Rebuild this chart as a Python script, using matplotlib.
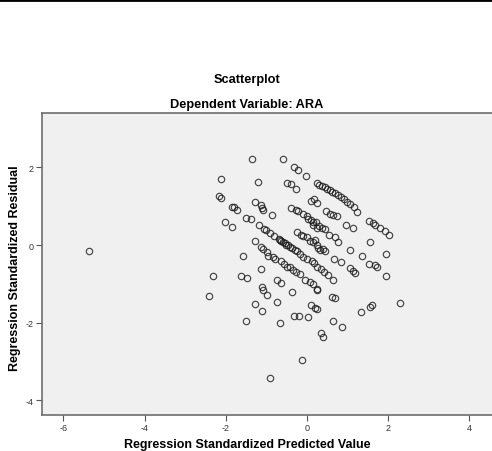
import numpy as np
import matplotlib.pyplot as plt
from matplotlib.lines import Line2D

plt.rcParams['font.family'] = ['Liberation Sans', 'DejaVu Sans']
plt.rcParams['axes.unicode_minus'] = False

# standardized predicted values (x) and standardized residuals (y)
pred_scattered = [-5.37, -1.35, -2.13, -2.17, -2.11, -1.85, -1.80, -1.72, -2.03, -1.85,
                  -1.50, -1.37, -1.58, -1.29, -2.31, -1.63, -1.49, -2.41, -1.13, -1.10,
                  -1.09, -0.98, -0.75, -0.64, -0.37, -0.75, -1.27, -1.10, -1.50, -0.66,
                  -0.32, -0.19, 0.02, 0.10, 0.20, 0.25, 0.65, 0.86, 0.34, 0.39,
                  -0.12, -0.92, 1.32, 1.54, 1.60, 2.29, -1.20, -0.86, -1.27, -1.14,
                  -1.10, -1.08]
resid_scattered = [-0.16, 2.22, 1.70, 1.26, 1.20, 0.97, 0.98, 0.91, 0.59, 0.47,
                   0.70, 0.66, -0.29, 0.10, -0.79, -0.80, -0.86, -1.32, -0.63, -1.08,
                   -1.15, -1.29, -0.91, -0.99, -1.21, -1.46, -1.53, -1.69, -1.95, -2.02,
                   -1.83, -1.82, -1.86, -1.54, -1.62, -1.66, -1.96, -2.11, -2.27, -2.36,
                   -2.96, -3.43, -1.73, -1.59, -1.55, -1.50, 1.63, 0.77, 1.10, 1.03,
                   0.95, 0.90]

pred_band_a = [-0.59, -0.32, -0.22, -0.02, 0.24, 0.30, 0.37, 0.44, 0.50, 0.57,
               0.62, 0.70, 0.76, 0.83, 0.90, 0.99, 1.07, 1.15, 1.24, 1.53,
               1.62, 1.68, 1.80, 1.92, 2.01]
resid_band_a = [2.21, 2.02, 1.94, 1.79, 1.60, 1.55, 1.53, 1.49, 1.44, 1.41,
                1.37, 1.33, 1.29, 1.24, 1.19, 1.12, 1.06, 0.98, 0.86, 0.63,
                0.57, 0.51, 0.44, 0.35, 0.27]

pred_band_e = [-0.50, -0.39, -0.26, 0.11, 0.17, 0.25, 0.47, 0.57, 0.64, 0.73,
               0.96, 1.13, 1.55, 1.95]
resid_band_e = [1.61, 1.58, 1.43, 1.14, 1.19, 1.08, 0.88, 0.81, 0.77, 0.74,
                0.51, 0.45, 0.08, -0.22]

pred_band_b = [-0.39, -0.28, -0.21, -0.11, -0.01, 0.03, 0.11, 0.15, 0.22, 0.29,
               0.37, 0.14, 0.25, 0.44, 0.55, 0.70, 0.76, 1.05, 1.36]
resid_band_b = [0.95, 0.90, 0.88, 0.79, 0.76, 0.66, 0.64, 0.60, 0.59, 0.50,
                0.45, 0.52, 0.44, 0.40, 0.26, 0.20, 0.09, -0.12, -0.29]

pred_band_c = [-1.18, -1.07, -1.00, -0.90, -0.81, -0.69, -0.64, -0.58, -0.52, -0.46,
               -0.37, -0.25, -0.17, -0.09, 0.01, 0.12, 0.17, 0.24, 0.34, 0.42,
               0.52, 0.65, -0.66, -0.55, -0.41, -0.30]
resid_band_c = [0.52, 0.42, 0.38, 0.31, 0.22, 0.15, 0.11, 0.07, 0.01, -0.01,
                -0.08, -0.15, -0.23, -0.30, -0.35, -0.40, -0.47, -0.57, -0.62, -0.69,
                -0.77, -0.90, 0.13, 0.05, -0.04, -0.12]

pred_band_d = [-0.25, -0.15, -0.09, 0.01, 0.07, 0.14, 0.20, 0.25, 0.28, 0.32,
               0.40, 0.44, 0.67, 0.83, 1.06, 1.14, 1.18, 1.53, 1.68, 1.72,
               1.95]
resid_band_d = [0.33, 0.26, 0.24, 0.20, 0.11, 0.07, 0.13, 0.01, -0.08, -0.13,
                -0.10, -0.15, -0.37, -0.43, -0.60, -0.66, -0.72, -0.49, -0.52, -0.56,
                -0.79]

pred_band_f = [-1.14, -1.09, -0.99, -0.97, -0.84, -0.80, -0.65, -0.56, -0.49, -0.42,
               -0.34, -0.27, -0.16, -0.04, 0.07, 0.14, 0.25, 0.25, 0.61, 0.69]
resid_band_f = [-0.06, -0.09, -0.17, -0.28, -0.32, -0.35, -0.42, -0.49, -0.56, -0.57,
                -0.64, -0.70, -0.75, -0.90, -0.96, -1.01, -1.13, -1.17, -1.35, -1.37]

x_ticks = [-6, -4, -2, 0, 2, 4]
y_ticks = [-4, -2, 0, 2]

pred = pred_scattered + pred_band_a + pred_band_e + pred_band_b + pred_band_c + pred_band_d + pred_band_f
resid = resid_scattered + resid_band_a + resid_band_e + resid_band_b + resid_band_c + resid_band_d + resid_band_f

fig = plt.figure(figsize=(4.92, 4.52), dpi=100)
ax = fig.add_axes([42 / 492, 1 - 415.7 / 452, 463 / 492, 301.7 / 452])
ax.set_facecolor('#f0f0f0')

ax.plot(pred, resid, linestyle='none', marker='o', markersize=4.6,
        markerfacecolor='none', markeredgecolor='#1a1a1a', markeredgewidth=0.85, alpha=0.8)

ax.set_xlim(-6.527, 4.877)
ax.set_ylim(-4.37, 3.40)
ax.set_xticks(x_ticks)
ax.set_yticks(y_ticks)
ax.tick_params(axis='both', length=4, width=0.8, color='#555555', labelsize=6.5,
               labelcolor='#333333', pad=2)
for side in ['left', 'bottom', 'top', 'right']:
    ax.spines[side].set_color('#6e6e6e')
    ax.spines[side].set_linewidth(1.2)

fig.text(247 / 492, 1 - 80 / 452, 'Scatterplot', ha='center', va='center',
         fontsize=9.2, fontweight='bold')
fig.text(247 / 492, 1 - 105 / 452, 'Dependent Variable: ARA', ha='center', va='center',
         fontsize=9.2, fontweight='bold')
fig.text(247 / 492, 1 - 445 / 452, 'Regression Standardized Predicted Value',
         ha='center', va='center', fontsize=9, fontweight='bold')
fig.text(15 / 492, 1 - 268 / 452, 'Regression Standardized Residual', rotation=90,
         ha='center', va='center', fontsize=9, fontweight='bold')

# black rule along the top edge
fig.add_artist(Line2D([0, 1], [1 - 1.2 / 452, 1 - 1.2 / 452], color='black',
                      linewidth=2, transform=fig.transFigure))

fig.savefig('out.png', dpi=100)
